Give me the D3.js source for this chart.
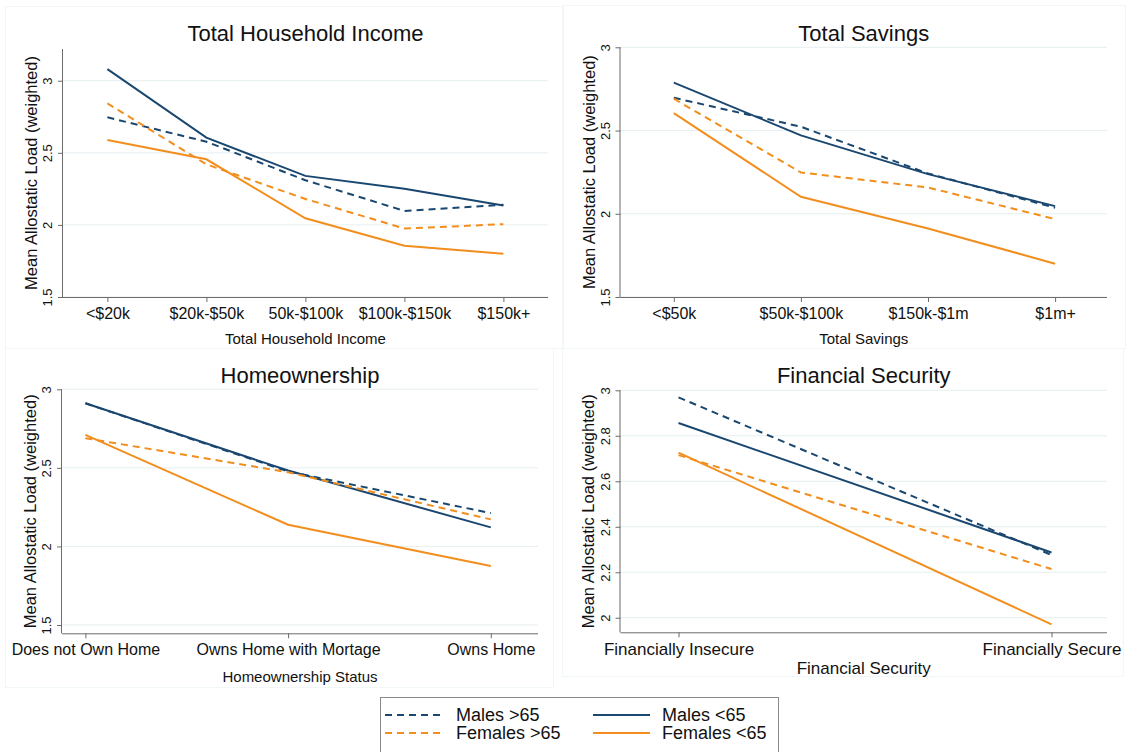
<!DOCTYPE html>
<html>
<head>
<meta charset="utf-8">
<script src="https://cdn.jsdelivr.net/npm/d3@7/dist/d3.min.js"></script>
<style>
  html, body { margin: 0; padding: 0; background: #fff; }
  svg { display: block; font-family: "Liberation Sans", Arial, Helvetica, sans-serif; }
</style>
</head>
<body>
<svg id="chart" width="1130" height="752"></svg>
<script>
// ---- data ----
const seriesNames = ["Males >65", "Males <65", "Females >65", "Females <65"];

const incomeCats = ["<$20k", "$20k-$50k", "50k-$100k", "$100k-$150k", "$150k+"];
const incomeMalesOld     = [2.746, 2.577, 2.310, 2.097, 2.140];
const incomeMalesYoung   = [3.080, 2.605, 2.340, 2.250, 2.134];
const incomeFemalesOld   = [2.843, 2.420, 2.180, 1.975, 2.005];
const incomeFemalesYoung = [2.589, 2.455, 2.046, 1.855, 1.800];
const incomeTicks = [1.5, 2, 2.5, 3];

const savingsCats = ["<$50k", "$50k-$100k", "$150k-$1m", "$1m+"];
const savingsMalesOld     = [2.697, 2.523, 2.242, 2.036];
const savingsMalesYoung   = [2.788, 2.471, 2.238, 2.046];
const savingsFemalesOld   = [2.691, 2.248, 2.158, 1.968];
const savingsFemalesYoung = [2.605, 2.102, 1.912, 1.700];
const savingsTicks = [1.5, 2, 2.5, 3];

const homeCats = ["Does not Own Home", "Owns Home with Mortage", "Owns Home"];
const homeMalesOld     = [2.911, 2.477, 2.212];
const homeMalesYoung   = [2.911, 2.483, 2.121];
const homeFemalesOld   = [2.689, 2.472, 2.172];
const homeFemalesYoung = [2.710, 2.138, 1.875];
const homeTicks = [1.5, 2, 2.5, 3];

const securityCats = ["Financially Insecure", "Financially Secure"];
const securityMalesOld     = [2.969, 2.276];
const securityMalesYoung   = [2.856, 2.287];
const securityFemalesOld   = [2.715, 2.214];
const securityFemalesYoung = [2.726, 1.971];
const securityTicks = [2, 2.2, 2.4, 2.6, 2.8, 3];

// ---- styling ----
const NAVY = "#1a476f";
const ORANGE = "#f28e1e";
const seriesStyle = [
  { color: NAVY,   dash: "7,5" },
  { color: NAVY,   dash: null },
  { color: ORANGE, dash: "7,5" },
  { color: ORANGE, dash: null }
];
const AXIS = "#6b6b6b";
const GRID = "#e6eff0";
const FRAME = "#f1f6f7";

// panel layout: frame, plot region, category positions, y-domain
const panels = [
  {
    title: "Total Household Income", xTitle: "Total Household Income",
    cats: incomeCats, ticks: incomeTicks,
    series: [incomeMalesOld, incomeMalesYoung, incomeFemalesOld, incomeFemalesYoung],
    frame: [5, 6, 562, 348],
    left: 63, right: 548, top: 49, bottom: 297,
    xFirst: 107.4, xLast: 503.4, yDomain: [1.5, 3.22],
    titleY: 33, xLabelY: 319, xTitleY: 344, yTitleX: 31,
    labelSize: 16, xTitleSize: 15
  },
  {
    title: "Total Savings", xTitle: "Total Savings",
    cats: savingsCats, ticks: savingsTicks,
    series: [savingsMalesOld, savingsMalesYoung, savingsFemalesOld, savingsFemalesYoung],
    frame: [563, 5, 1125, 348],
    left: 620.5, right: 1107, top: 47.3, bottom: 297,
    xFirst: 673.8, xLast: 1055.1, yDomain: [1.5, 3],
    titleY: 33, xLabelY: 319, xTitleY: 344, yTitleX: 588.5,
    labelSize: 16, xTitleSize: 15
  },
  {
    title: "Homeownership", xTitle: "Homeownership Status",
    cats: homeCats, ticks: homeTicks,
    series: [homeMalesOld, homeMalesYoung, homeFemalesOld, homeFemalesYoung],
    frame: [5, 348, 553, 687],
    left: 62, right: 538, top: 389.3, bottom: 633.3,
    xFirst: 85.4, xLast: 490.8, yDomain: [1.447, 3],
    titleY: 375, xLabelY: 655, xTitleY: 682, yTitleX: 29.5,
    labelSize: 16, xTitleSize: 15
  },
  {
    title: "Financial Security", xTitle: "Financial Security",
    cats: securityCats, ticks: securityTicks,
    series: [securityMalesOld, securityMalesYoung, securityFemalesOld, securityFemalesYoung],
    frame: [562, 348, 1123, 676],
    left: 620.5, right: 1107, top: 390.3, bottom: 632.3,
    xFirst: 678.5, xLast: 1051.5, yDomain: [1.936, 3],
    titleY: 375, xLabelY: 655, xTitleY: 673.5, yTitleX: 587.5,
    labelSize: 17, xTitleSize: 17
  }
];

const svg = d3.select("#chart");

panels.forEach(p => {
  const g = svg.append("g");

  // faint panel frame
  g.append("rect")
    .attr("x", p.frame[0] + 0.5).attr("y", p.frame[1] + 0.5)
    .attr("width", p.frame[2] - p.frame[0]).attr("height", p.frame[3] - p.frame[1])
    .attr("fill", "none").attr("stroke", FRAME).attr("stroke-width", 1);

  const x = d3.scalePoint().domain(p.cats).range([p.xFirst, p.xLast]);
  const y = d3.scaleLinear().domain(p.yDomain).range([p.bottom, p.top]);

  // horizontal grid lines
  g.append("g").selectAll("line").data(p.ticks).join("line")
    .attr("x1", p.left).attr("x2", p.right)
    .attr("y1", d => y(d)).attr("y2", d => y(d))
    .attr("stroke", GRID).attr("stroke-width", 1);

  // y axis with vertical tick labels
  const yAxis = g.append("g")
    .attr("transform", `translate(${p.left},0)`)
    .call(d3.axisLeft(y).tickValues(p.ticks).tickSize(5).tickFormat(d3.format("~g")));
  yAxis.select(".domain").attr("stroke", AXIS).attr("d", `M-0.5,${p.top}V${p.bottom}`);
  yAxis.selectAll(".tick line").attr("stroke", AXIS);
  yAxis.selectAll(".tick text")
    .attr("x", null).attr("dy", null)
    .attr("transform", "translate(-11,0) rotate(-90)")
    .attr("text-anchor", "middle")
    .attr("font-size", 13).attr("fill", "#111");

  // x axis
  const xAxis = g.append("g")
    .attr("transform", `translate(0,${p.bottom})`)
    .call(d3.axisBottom(x).tickSize(5));
  xAxis.select(".domain").attr("stroke", AXIS).attr("d", `M${p.left},0.5H${p.right}`);
  xAxis.selectAll(".tick line").attr("stroke", AXIS);
  xAxis.selectAll(".tick text")
    .attr("y", p.xLabelY - p.bottom).attr("dy", null)
    .attr("font-size", p.labelSize).attr("fill", "#111");

  // series lines
  const line = d3.line().x((d, i) => x(p.cats[i])).y(d => y(d));
  p.series.forEach((vals, si) => {
    g.append("path")
      .datum(vals)
      .attr("d", line)
      .attr("fill", "none")
      .attr("stroke", seriesStyle[si].color)
      .attr("stroke-width", 2)
      .attr("stroke-dasharray", seriesStyle[si].dash);
  });

  // titles
  g.append("text")
    .attr("x", (p.left + p.right) / 2).attr("y", p.titleY)
    .attr("text-anchor", "middle").attr("dominant-baseline", "central")
    .attr("font-size", 22).attr("fill", "#111").text(p.title);

  g.append("text")
    .attr("x", (p.left + p.right) / 2).attr("y", p.xTitleY)
    .attr("text-anchor", "middle")
    .attr("font-size", p.xTitleSize).attr("fill", "#111").text(p.xTitle);

  g.append("text")
    .attr("transform", `translate(${p.yTitleX},${(p.top + p.bottom) / 2}) rotate(-90)`)
    .attr("text-anchor", "middle").attr("dominant-baseline", "central")
    .attr("font-size", 16.5).attr("fill", "#111")
    .text("Mean Allostatic Load (weighted)");
});

// ---- legend ----
const legend = svg.append("g");
legend.append("rect")
  .attr("x", 380.5).attr("y", 697.5).attr("width", 398).attr("height", 70)
  .attr("fill", "#fff").attr("stroke", "#8a8a8a").attr("stroke-width", 1);

const legendPos = [
  { x1: 385, x2: 445, tx: 456, y: 715 },
  { x1: 593, x2: 650, tx: 662, y: 715 },
  { x1: 385, x2: 445, tx: 456, y: 733 },
  { x1: 593, x2: 650, tx: 662, y: 733 }
];
seriesNames.forEach((name, i) => {
  const pos = legendPos[i];
  legend.append("line")
    .attr("x1", pos.x1).attr("x2", pos.x2).attr("y1", pos.y).attr("y2", pos.y)
    .attr("stroke", seriesStyle[i].color).attr("stroke-width", 2)
    .attr("stroke-dasharray", seriesStyle[i].dash);
  legend.append("text")
    .attr("x", pos.tx).attr("y", pos.y)
    .attr("dominant-baseline", "central")
    .attr("font-size", 18).attr("fill", "#111").text(name);
});
</script>
</body>
</html>
